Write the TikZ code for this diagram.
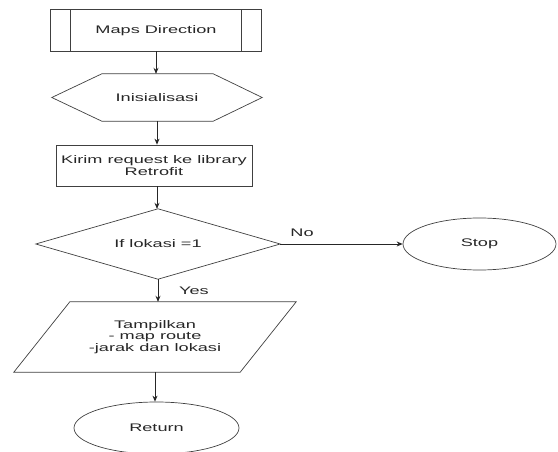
\documentclass[tikz,border=0pt]{standalone}
\usepackage{fontspec}
\setmainfont[FakeStretch=1.65]{Liberation Sans}
\usetikzlibrary{arrows.meta,shapes.geometric}

\begin{document}
\begin{tikzpicture}[x=1pt,y=-1pt,
  box/.style={rectangle,inner sep=0pt,align=center,
    font=\fontsize{11}{11.5}\selectfont,text=black!85},
  outline/.style={draw=black!75,line width=0.7pt},
  flow/.style={draw=black!85,line width=0.8pt,-{Stealth[length=6pt,width=5pt]}},
  lbl/.style={inner sep=0pt,font=\fontsize{11}{11.5}\selectfont,text=black!85}
]
\useasboundingbox (0,0) rectangle (558,452);

% predefined process: Maps Direction
\node[box,minimum width=210pt,minimum height=41pt] (md) at (156,30.5) {Maps Direction};
\draw[outline] (md.north west) rectangle (md.south east);
\draw[outline] ([xshift=20pt]md.north west) -- ([xshift=20pt]md.south west);
\draw[outline] ([xshift=-20pt]md.north east) -- ([xshift=-20pt]md.south east);

% preparation hexagon
\node[box,minimum width=210pt,minimum height=47pt] (hex) at (157,97.5) {Inisialisasi};
\draw[outline] (hex.west) -- ([xshift=50pt]hex.north west) -- ([xshift=-49pt]hex.north east)
  -- (hex.east) -- ([xshift=-49pt]hex.south east) -- ([xshift=50pt]hex.south west) -- cycle;

% process box
\node[box,outline,minimum width=196pt,minimum height=41pt] (kirim) at (154,165.5)
  {Kirim request ke library\\Retrofit};

% decision
\node[box,minimum width=244pt,minimum height=70pt] (dia) at (158,244) {If lokasi =1};
\draw[outline] (dia.north) -- (dia.east) -- (dia.south) -- (dia.west) -- cycle;

% terminator: Stop
\node[box,ellipse,outline,minimum width=153pt,minimum height=52pt] (stop) at (479.5,244) {Stop};

% output parallelogram
\node[box,minimum width=282pt,minimum height=70pt] (para) at (155,337)
  {Tampilkan\\- map route\\-jarak dan lokasi};
\draw[outline] ([xshift=56pt]para.north west) -- (para.north east)
  -- ([xshift=-56pt]para.south east) -- (para.south west) -- cycle;

% terminator: Return
\node[box,ellipse,outline,minimum width=165pt,minimum height=52pt] (ret) at (156.5,428) {Return};

% connectors
\draw[flow] (md.south) -- (md.south |- hex.north);
\draw[flow] (hex.south) -- (hex.south |- kirim.north);
\draw[flow] (hex.south |- kirim.south) -- (hex.south |- dia.north);
\draw[flow] (dia.south) -- (dia.south |- para.north);
\draw[flow] (dia.east) -- (stop.west);
\draw[flow] (para.south) -- (para.south |- ret.north);

% branch labels
\node[lbl] (yes) at (194,291) {Yes};
\node[lbl] (no) at (302,232.5) {No};
\end{tikzpicture}
\end{document}
